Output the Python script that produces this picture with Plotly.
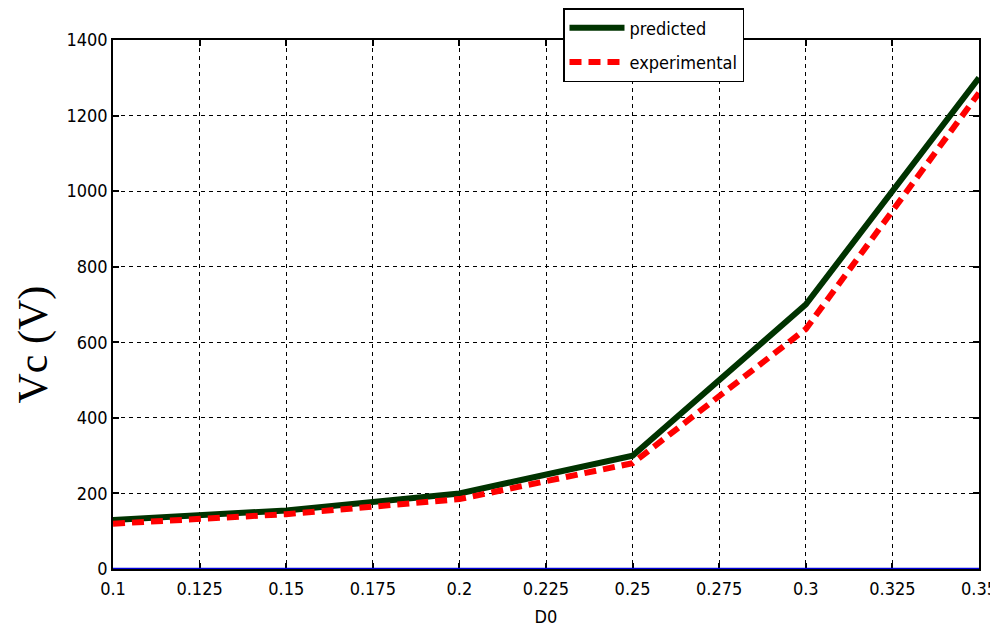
import plotly.graph_objects as go

d0 = [0.1, 0.15, 0.2, 0.25, 0.3, 0.35]
predicted = [130, 155, 200, 300, 700, 1300]
experimental = [120, 145, 185, 280, 635, 1260]
xticks = [0.1, 0.125, 0.15, 0.175, 0.2, 0.225, 0.25, 0.275, 0.3, 0.325, 0.35]
xticklabels = ["0.1", "0.125", "0.15", "0.175", "0.2", "0.225", "0.25", "0.275", "0.3", "0.325", "0.35"]
yticks = [0, 200, 400, 600, 800, 1000, 1200, 1400]

font_narrow = "DejaVu Sans Condensed, Liberation Sans Narrow, Arial Narrow, Liberation Sans, sans-serif"

fig = go.Figure()
fig.add_trace(go.Scatter(x=d0, y=predicted, mode="lines", name="predicted", legendgroup="a",
                         line=dict(color="#003300", width=6)))
fig.add_trace(go.Scatter(x=d0, y=experimental, mode="lines", name="experimental", legendgroup="b",
                         line=dict(color="#ff0000", width=6, dash="12px,7px")))

fig.add_shape(type="line", xref="paper", x0=0, x1=1, yref="y", y0=0, y1=0,
              line=dict(color="#0000dd", width=2.5), layer="above")

axis_common = dict(showline=True, linecolor="black", linewidth=1.5, mirror="ticks",
                   ticks="inside", ticklen=6, tickcolor="black", tickwidth=1.5,
                   showgrid=True, gridcolor="black", gridwidth=1, griddash="4px,4px",
                   zeroline=False, automargin=False,
                   tickfont=dict(family=font_narrow, size=18, color="black"))

fig.update_xaxes(range=[0.1, 0.35], tickvals=xticks, ticktext=xticklabels, ticklabelstandoff=3,
                 title=dict(text="D0", font=dict(family=font_narrow, size=18, color="black"), standoff=12),
                 **axis_common)
fig.update_yaxes(range=[0, 1400], tickvals=yticks, **axis_common)

fig.add_annotation(text="Vc (V)", xref="paper", yref="paper", x=-0.092, y=0.425,
                   xanchor="center", yanchor="middle", textangle=-90, showarrow=False,
                   font=dict(family="Liberation Serif, Times New Roman, serif", size=42, color="black"))

fig.update_layout(
    width=990, height=624,
    margin=dict(l=105, r=19, t=32, b=63, autoexpand=False),
    paper_bgcolor="white", plot_bgcolor="white",
    showlegend=True,
    legend=dict(xref="container", yref="container", x=555/990, y=1.0,
                xanchor="left", yanchor="top",
                bgcolor="white", bordercolor="black", borderwidth=1.5,
                itemwidth=55, tracegroupgap=8,
                font=dict(family=font_narrow, size=18, color="black")),
)

fig.write_html("out.html")
